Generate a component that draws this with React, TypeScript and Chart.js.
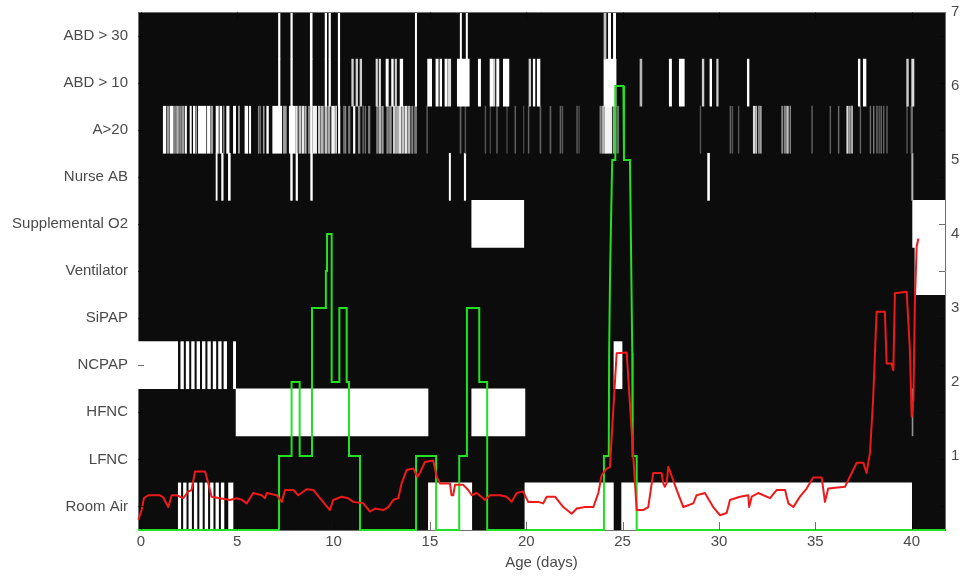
import React, { useEffect, useRef } from "react";
import { Chart, registerables } from "chart.js";

Chart.register(...registerables);

// ---- axes -------------------------------------------------------------
const rowLabels = [
  "Room Air",
  "LFNC",
  "HFNC",
  "NCPAP",
  "SiPAP",
  "Ventilator",
  "Supplemental O2",
  "Nurse AB",
  "A>20",
  "ABD > 10",
  "ABD > 30",
];
const ageTicks = [0, 5, 10, 15, 20, 25, 30, 35, 40];
const scoreTicks = [1, 2, 3, 4, 5, 6, 7];
const ageMin = -0.15;
const ageMax = 41.73;

// ---- respiratory support spans [startDay, endDay] ------------------------
const roomAirSpans = [
  [14.92, 17.17],
  [19.93, 24.52],
  [24.95, 40.0],
];
const roomAirBursts = [
  [1.94, 2.07], [2.21, 2.35], [2.49, 2.63], [2.77, 2.91], [3.05, 3.19],
  [3.33, 3.47], [3.61, 3.75], [3.89, 4.03], [4.17, 4.31], [4.55, 4.78],
];
const hfncSpans = [
  [4.94, 14.9],
  [17.17, 19.93],
  [40.02, 40.07, 0.55],
];
const ncpapSpans = [
  [-0.15, 1.91],
  [24.55, 24.97],
];
const ncpapBursts = [
  [2.07, 2.21], [2.35, 2.49], [2.63, 2.77], [2.91, 3.05], [3.19, 3.33],
  [3.47, 3.61], [3.75, 3.89], [4.03, 4.17], [4.31, 4.45], [4.8, 4.92],
];
const ventilatorSpans = [[40.17, 41.73]];
const suppO2Spans = [
  [17.17, 19.87],
  [40.05, 41.73],
];

// ---- event marks [startDay, endDay, intensity] ------------------------------
const nurseEvents = [
  [3.9, 3.96], [4.19, 4.27], [4.54, 4.64], [7.77, 7.86], [8.05, 8.13],
  [8.81, 8.9], [16.0, 16.07], [16.78, 16.86], [29.41, 29.51], [40.0, 40.07, 0.7],
];
const a20Events = [
  [1.16, 1.3, 1], [1.37, 1.45, 0.6], [1.51, 1.68, 1], [1.72, 1.8, 0.5], [1.85, 1.95, 0.7],
  [2.0, 2.08, 0.5], [2.12, 2.22, 0.6], [2.29, 2.37, 1], [2.55, 2.62, 1], [2.72, 2.8, 1],
  [2.84, 2.9, 0.6], [2.98, 3.38, 1], [3.45, 3.59, 1], [3.63, 3.73, 0.6], [3.9, 4.02, 1],
  [4.1, 4.2, 1], [4.28, 4.32, 0.5], [4.45, 4.58, 1], [4.8, 4.92, 1], [5.06, 5.12, 0.6],
  [5.4, 5.55, 1], [5.63, 5.7, 1], [6.09, 6.14, 0.5], [6.18, 6.22, 0.4], [6.35, 6.4, 0.6],
  [6.53, 6.62, 1], [6.84, 7.31, 1], [7.39, 7.55, 0.6], [7.7, 8.0, 1], [8.03, 8.12, 0.9],
  [8.2, 8.3, 0.75], [8.36, 8.45, 0.9], [8.5, 8.58, 0.7], [8.69, 8.76, 0.5], [8.8, 8.9, 1],
  [8.95, 9.12, 0.95], [9.21, 9.3, 0.8], [9.35, 9.47, 0.7], [9.55, 9.65, 0.75], [9.7, 9.81, 0.65],
  [9.9, 10.05, 0.95], [10.1, 10.16, 0.8], [10.25, 10.33, 1], [10.51, 10.57, 0.4], [10.6, 10.64, 0.5],
  [10.77, 10.85, 0.45], [11.03, 11.11, 1], [11.28, 11.37, 0.5], [11.51, 11.56, 0.35], [11.63, 11.67, 0.4],
  [11.8, 11.89, 0.45], [12.23, 12.3, 0.5], [12.35, 12.45, 0.7], [12.5, 12.58, 0.6], [12.76, 12.85, 0.5],
  [12.9, 13.0, 0.55], [13.1, 13.2, 0.8], [13.22, 13.35, 0.65], [13.38, 13.5, 0.9], [13.55, 13.65, 0.75],
  [13.7, 13.8, 0.9], [13.85, 13.97, 0.7], [14.05, 14.12, 0.5], [14.2, 14.31, 0.45], [14.83, 14.88, 0.3],
  [16.56, 16.62, 0.35], [16.82, 16.86, 0.3], [17.86, 17.9, 0.3], [18.12, 18.15, 0.25], [18.46, 18.5, 0.35],
  [18.98, 19.02, 0.25], [19.41, 19.45, 0.35], [19.85, 19.88, 0.25], [20.1, 20.14, 0.35], [20.71, 20.76, 0.35],
  [21.23, 21.28, 0.35], [21.75, 21.8, 0.35], [21.86, 21.9, 0.3], [22.61, 22.66, 0.3], [22.72, 22.76, 0.25],
  [23.82, 23.9, 0.5], [23.95, 24.05, 0.7], [24.08, 24.43, 0.95], [24.5, 24.6, 0.6], [24.69, 24.8, 0.4],
  [29.02, 29.06, 0.3], [30.57, 30.62, 0.35], [30.68, 30.72, 0.3], [31.0, 31.04, 0.3], [31.78, 31.86, 0.85],
  [31.9, 31.96, 0.75], [32.05, 32.1, 0.6], [32.13, 32.2, 0.6], [33.25, 33.32, 0.5], [33.4, 33.45, 0.6],
  [33.51, 33.6, 0.75], [33.68, 33.72, 0.5], [34.81, 34.85, 0.35], [35.76, 35.8, 0.35], [36.19, 36.23, 0.4],
  [36.63, 36.71, 0.85], [36.76, 36.82, 0.6], [36.88, 36.93, 0.8], [37.32, 37.36, 0.35], [37.84, 37.88, 0.4],
  [38.01, 38.05, 0.45], [38.18, 38.22, 0.4], [38.3, 38.33, 0.35], [38.4, 38.44, 0.4], [38.53, 38.57, 0.35],
  [38.7, 38.74, 0.35], [39.74, 39.78, 0.3], [39.96, 40.05, 0.4],
];
const abd10Events = [
  [7.14, 7.22], [7.78, 7.86], [8.79, 8.89], [9.56, 9.64], [9.76, 9.84], [10.24, 10.32],
  [10.94, 11.03, 0.8], [11.16, 11.25, 0.8], [11.37, 11.46, 0.8], [12.2, 12.28, 0.85], [12.36, 12.44, 0.85],
  [12.72, 12.84], [13.01, 13.1], [13.19, 13.27, 0.8], [13.45, 13.59], [14.24, 14.31],
  [14.88, 15.09], [15.31, 15.43], [15.52, 15.61], [15.78, 15.9], [15.95, 16.08, 0.85],
  [16.42, 17.04], [17.51, 17.63], [18.12, 18.26], [18.29, 18.37, 0.8], [18.46, 18.58],
  [18.81, 19.1], [20.14, 20.23, 0.8], [20.36, 20.45], [20.57, 20.71],
  [24.03, 24.66], [25.9, 26.0, 0.7], [27.42, 27.54], [27.94, 28.2], [29.13, 29.22, 0.8],
  [29.53, 29.62], [29.88, 29.96, 0.8], [31.47, 31.56], [37.23, 37.32], [37.49, 37.63],
  [39.74, 39.83, 0.8], [40.0, 40.12, 0.85],
];
const abd30Events = [
  [7.14, 7.22], [7.78, 7.86], [8.79, 8.89], [9.56, 9.64], [9.76, 9.84], [10.24, 10.32],
  [14.24, 14.31], [16.57, 16.64], [16.88, 16.95], [24.03, 24.14, 0.75], [24.26, 24.38], [24.52, 24.64],
];

// ---- traces [day, value] on the right-hand axis -------------------------------
const supportLevel = [
  [-0.15, 0], [7.17, 0], [7.17, 1], [7.82, 1], [7.82, 2], [8.24, 2], [8.24, 1], [8.88, 1],
  [8.88, 3], [9.6, 3], [9.6, 3.5], [9.66, 3.5], [9.66, 4], [9.9, 4], [9.9, 2], [10.3, 2],
  [10.3, 3], [10.68, 3], [10.68, 2], [10.8, 2], [10.8, 1], [11.37, 1], [11.37, 0], [14.28, 0],
  [14.28, 1], [15.32, 1], [15.32, 0], [16.52, 0], [16.52, 1], [16.92, 1], [16.92, 3], [17.56, 3],
  [17.56, 2], [17.97, 2], [17.97, 0], [24.03, 0], [24.03, 1], [24.28, 1], [24.3, 2.4], [24.35, 3.5],
  [24.43, 4.6], [24.46, 5], [24.62, 5], [24.62, 6], [25.04, 6], [25.07, 5], [25.38, 5], [25.45, 3.5],
  [25.5, 2.4], [25.52, 1], [25.73, 1], [25.73, 0], [41.73, 0],
];
const riskScore = [
  [-0.13, 0.14], [0.04, 0.27], [0.16, 0.43], [0.38, 0.47], [0.99, 0.47], [1.16, 0.44], [1.42, 0.31],
  [1.6, 0.47], [1.86, 0.47], [2.2, 0.43], [2.46, 0.52], [2.63, 0.54], [2.81, 0.79], [3.33, 0.79],
  [3.5, 0.63], [3.67, 0.45], [4.1, 0.43], [4.62, 0.405], [4.97, 0.43], [5.23, 0.41], [5.49, 0.36],
  [5.83, 0.5], [6.27, 0.47], [6.44, 0.43], [6.53, 0.5], [7.05, 0.47], [7.31, 0.38], [7.48, 0.54],
  [7.91, 0.54], [8.17, 0.47], [8.6, 0.55], [8.95, 0.54], [9.38, 0.405], [9.81, 0.27], [9.98, 0.405],
  [10.42, 0.45], [10.76, 0.43], [11.02, 0.38], [11.54, 0.36], [11.89, 0.25], [12.15, 0.29], [12.58, 0.27],
  [12.84, 0.31], [13.1, 0.405], [13.36, 0.43], [13.53, 0.63], [13.79, 0.81], [14.14, 0.83], [14.35, 0.72],
  [14.48, 0.77], [14.74, 0.92], [15.17, 0.94], [15.35, 0.72], [15.52, 0.63], [16.04, 0.63], [16.12, 0.47],
  [16.21, 0.47], [16.3, 0.61], [16.73, 0.61], [16.99, 0.54], [17.17, 0.47], [17.43, 0.5], [17.86, 0.405],
  [18.12, 0.47], [18.64, 0.47], [18.98, 0.45], [19.24, 0.38], [19.5, 0.5], [19.84, 0.52], [20.1, 0.38],
  [20.62, 0.38], [20.88, 0.36], [21.06, 0.45], [21.49, 0.45], [21.92, 0.31], [22.36, 0.22], [22.62, 0.29],
  [23.05, 0.31], [23.48, 0.31], [23.74, 0.5], [23.91, 0.74], [24.17, 0.83], [24.34, 0.85], [24.69, 2.39],
  [25.21, 2.4], [25.73, 0.27], [26.07, 0.27], [26.33, 0.31], [26.59, 0.77], [27.02, 0.77], [27.11, 0.63],
  [27.19, 0.585], [27.28, 0.63], [27.37, 0.855], [27.81, 0.54], [28.15, 0.31], [28.67, 0.36], [28.84, 0.47],
  [29.27, 0.5], [29.7, 0.31], [30.05, 0.2], [30.4, 0.23], [30.57, 0.405], [31.09, 0.45], [31.52, 0.47],
  [31.57, 0.31], [31.7, 0.45], [32.04, 0.5], [32.65, 0.43], [32.99, 0.54], [33.43, 0.54], [33.6, 0.36],
  [33.86, 0.31], [34.03, 0.38], [34.2, 0.45], [34.55, 0.56], [34.89, 0.71], [35.33, 0.71], [35.5, 0.38],
  [35.67, 0.56], [36.54, 0.585], [36.89, 0.77], [37.15, 0.91], [37.49, 0.91], [37.66, 0.77], [37.84, 1.05],
  [38.0, 1.76], [38.18, 2.95], [38.61, 2.95], [38.7, 2.25], [38.96, 2.25], [39.05, 2.16], [39.13, 3.2],
  [39.74, 3.22], [39.91, 2.43], [40.0, 1.53], [40.09, 1.76], [40.17, 3.11], [40.26, 3.83], [40.35, 3.94],
];

// ---- styling --------------------------------------------------------------
const FONT = { family: "'Liberation Sans', Arial, Helvetica, sans-serif", size: 15 };
const TEXT = "#4a4a4a";
const EDGE = "#6f6f6f";
const PLOT_BG = "#0c0c0c";

const grey = (level: number) => {
  const v = Math.round(12 + level * 243);
  return `rgb(${v},${v},${v})`;
};

type Span = number[];
const marks = (row: number, spans: Span[]) =>
  spans.map(([s, e, level = 1]) => ({ x: [s, e], y: row + 0.5, level }));

const barSet = (label: string, points: any[]) => ({
  type: "bar" as const,
  label,
  indexAxis: "y" as const,
  xAxisID: "x",
  yAxisID: "yRows",
  data: points,
  grouped: false,
  barPercentage: 1,
  categoryPercentage: 1,
  borderWidth: 0,
  backgroundColor: (ctx: any) => grey(ctx.raw && ctx.raw.level !== undefined ? ctx.raw.level : 1),
});

// vertical axes: fixed width, and no extra room reserved for label overhang
const fixVertical = (width: number) => (s: any) => {
  s.width = width;
  s.paddingTop = 0;
  s.paddingBottom = 0;
};

// black plotting field behind everything
const plotBackground = {
  id: "plotBackground",
  beforeDraw(chart: any) {
    const { ctx, chartArea: a } = chart;
    ctx.save();
    ctx.fillStyle = PLOT_BG;
    ctx.fillRect(a.left, a.top, a.right - a.left, a.bottom - a.top);
    ctx.restore();
  },
};

// box top edge and inward tick marks on all four sides
// (ticks are multiplied in, so they only show where they cross white marks)
const innerTicks = {
  id: "innerTicks",
  afterDatasetsDraw(chart: any) {
    const { ctx, chartArea: a, scales } = chart;
    ctx.save();
    ctx.strokeStyle = EDGE;
    ctx.lineWidth = 1;
    ctx.beginPath();
    ctx.moveTo(a.left, a.top + 0.5);
    ctx.lineTo(a.right, a.top + 0.5);
    ctx.stroke();
    ctx.globalCompositeOperation = "multiply";
    ctx.strokeStyle = "#707070";
    ctx.beginPath();
    scales.x.ticks.forEach((t: any) => {
      const px = Math.round(scales.x.getPixelForValue(t.value)) + 0.5;
      ctx.moveTo(px, a.bottom);
      ctx.lineTo(px, a.bottom - 8);
      ctx.moveTo(px, a.top);
      ctx.lineTo(px, a.top + 8);
    });
    scales.yRows.ticks.forEach((t: any) => {
      const py = Math.round(scales.yRows.getPixelForValue(t.value)) + 0.5;
      ctx.moveTo(a.left, py);
      ctx.lineTo(a.left + 6, py);
      ctx.moveTo(a.right, py);
      ctx.lineTo(a.right - 6, py);
    });
    ctx.stroke();
    ctx.restore();
  },
};

export default function App() {
  const canvasRef = useRef<HTMLCanvasElement>(null);

  useEffect(() => {
    const canvas = canvasRef.current;
    if (!canvas) return;

    const spans = [
      ...marks(0, roomAirSpans),
      ...marks(0, roomAirBursts),
      ...marks(2, hfncSpans),
      ...marks(3, ncpapSpans),
      ...marks(3, ncpapBursts),
      ...marks(5, ventilatorSpans),
      ...marks(6, suppO2Spans),
    ];
    const events = [
      ...marks(7, nurseEvents),
      ...marks(8, a20Events),
      ...marks(9, abd10Events),
      ...marks(10, abd30Events),
    ];

    const chart = new Chart(canvas, {
      type: "line",
      data: {
        datasets: [
          {
            type: "line",
            label: "score",
            xAxisID: "x",
            yAxisID: "yVal",
            data: riskScore.map(([x, y]) => ({ x, y })),
            borderColor: "#ee1a1a",
            borderWidth: 2,
            borderJoinStyle: "round",
            pointRadius: 0,
            tension: 0,
            fill: false,
            clip: 3,
          },
          {
            type: "line",
            label: "support",
            xAxisID: "x",
            yAxisID: "yVal",
            data: supportLevel.map(([x, y]) => ({ x, y })),
            borderColor: "#22e022",
            borderWidth: 2,
            pointRadius: 0,
            tension: 0,
            fill: false,
            clip: 3,
          },
          barSet("events", events),
          barSet("support spans", spans),
        ] as any,
      },
      options: {
        responsive: false,
        animation: false,
        events: [],
        layout: { padding: { top: 12, left: 0, right: 0, bottom: 0 } },
        plugins: {
          legend: { display: false },
          tooltip: { enabled: false },
          title: { display: false },
        },
        scales: {
          x: {
            type: "linear",
            position: "bottom",
            min: ageMin,
            max: ageMax,
            offset: false,
            afterBuildTicks: (s: any) => {
              s.ticks = ageTicks.map((v) => ({ value: v }));
            },
            afterFit: (s: any) => {
              s.height = 51;
              s.paddingLeft = 0;
              s.paddingRight = 0;
            },
            grid: { display: false, drawTicks: false },
            border: { display: true, color: EDGE, width: 1 },
            ticks: {
              color: TEXT,
              font: FONT,
              padding: 3,
              maxRotation: 0,
              autoSkip: false,
              callback: (v: any) => String(v),
            },
            title: {
              display: true,
              text: "Age (days)",
              color: TEXT,
              font: FONT,
              padding: { top: 0, bottom: 9 },
            },
          },
          yRows: {
            type: "linear",
            position: "left",
            min: 0,
            max: rowLabels.length,
            offset: false,
            afterBuildTicks: (s: any) => {
              s.ticks = rowLabels.map((_, i) => ({ value: i + 0.5 }));
            },
            afterFit: fixVertical(138),
            grid: { display: false, drawTicks: false, offset: false },
            border: { display: true, color: EDGE, width: 1 },
            ticks: {
              color: TEXT,
              font: FONT,
              padding: 10,
              autoSkip: false,
              callback: (v: any) => rowLabels[Math.floor(Number(v))] ?? "",
            },
          },
          yVal: {
            type: "linear",
            position: "right",
            min: 0,
            max: 7,
            offset: false,
            afterBuildTicks: (s: any) => {
              s.ticks = scoreTicks.map((v) => ({ value: v }));
            },
            afterFit: fixVertical(20),
            grid: { display: false, drawTicks: false },
            border: { display: true, color: EDGE, width: 1 },
            ticks: { color: TEXT, font: FONT, padding: 6, autoSkip: false },
          },
        },
      } as any,
      plugins: [plotBackground, innerTicks],
    });

    return () => chart.destroy();
  }, []);

  return (
    <div style={{ position: "absolute", left: 0, top: 0, width: 965, height: 581, background: "#ffffff" }}>
      <canvas ref={canvasRef} width={965} height={581} style={{ display: "block" }} />
    </div>
  );
}
